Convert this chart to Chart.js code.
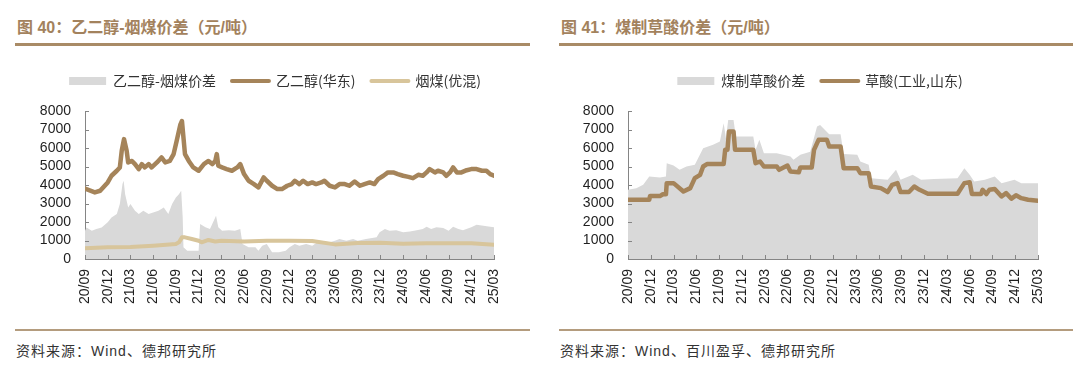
<!DOCTYPE html>
<html lang="zh-CN">
<head>
<meta charset="utf-8">
<title>乙二醇-烟煤价差 / 煤制草酸价差</title>
<script src="https://cdn.jsdelivr.net/npm/chart.js@4.4.1/dist/chart.umd.min.js"></script>
<style>
  html, body { margin: 0; padding: 0; background: #fff; }
  body { width: 1080px; height: 372px; position: relative; overflow: hidden;
         font-family: "Liberation Sans", "Noto Sans CJK SC", sans-serif; }
  .title { position: absolute; top: 18px; font-size: 16px; line-height: 20px; font-weight: bold; color: #a3825d; white-space: nowrap; }
  .rule { position: absolute; top: 43px; height: 3px; background: #a98b66; }
  .foot-rule { position: absolute; top: 329px; height: 2px; background: #b49c7e; }
  .source { position: absolute; top: 342px; font-size: 14px; line-height: 18px; color: #333; letter-spacing: 1px; white-space: nowrap; }
  .panel { position: absolute; top: 56px; width: 540px; height: 270px; }
</style>
</head>
<body>
  <div class="title" style="left:17px">图 40：乙二醇-烟煤价差（元/吨）</div>
  <div class="rule" style="left:15px;width:515px"></div>
  <div class="panel" style="left:0"><canvas id="c1" width="540" height="270"></canvas></div>
  <div class="foot-rule" style="left:15px;width:515px"></div>
  <div class="source" style="left:16px">资料来源：Wind、德邦研究所</div>

  <div class="title" style="left:561px">图 41：煤制草酸价差（元/吨）</div>
  <div class="rule" style="left:559px;width:514px"></div>
  <div class="panel" style="left:540px"><canvas id="c2" width="540" height="270"></canvas></div>
  <div class="foot-rule" style="left:559px;width:514px"></div>
  <div class="source" style="left:560px">资料来源：Wind、百川盈孚、德邦研究所</div>

<script>
// x positions are months counted from 2020-09 (0) to 2025-03 (54)
const TICK_LABELS = ["20/09","20/12","21/03","21/06","21/09","21/12","22/03","22/06","22/09","22/12",
  "23/03","23/06","23/09","23/12","24/03","24/06","24/09","24/12","25/03"];

// --- fig 40: ethylene glycol (East China), thermal coal, spread ---
const EG_M = [0, 1.3, 2.0, 3.0, 3.5, 4.2, 4.6, 4.85, 5.15, 5.5,
  5.7, 6.2, 6.6, 7.1, 7.5, 7.9, 8.4, 8.8, 9.5, 10.1,
  10.6, 11.2, 11.7, 12.1, 12.6, 12.8, 13.0, 13.2, 13.7, 14.3,
  15.0, 15.7, 16.3, 16.8, 17.2, 17.4, 17.6, 18.1, 18.7, 19.4,
  20.1, 20.5, 21.0, 21.6, 22.3, 22.9, 23.6, 24.0, 24.7, 25.4,
  26.0, 26.7, 27.3, 27.7, 28.3, 28.8, 29.4, 30.0, 30.5, 31.2,
  31.6, 32.3, 33.0, 33.6, 34.3, 34.9, 35.6, 36.3, 36.9, 37.6,
  38.2, 38.7, 39.4, 40.0, 40.7, 41.3, 42.0, 42.7, 43.3, 44.0,
  44.6, 45.1, 45.5, 46.2, 46.6, 47.3, 47.7, 48.2, 48.6, 49.1,
  49.7, 50.4, 51.0, 51.7, 52.4, 53.0, 53.5, 54.0];
const EG_PRICE = [3800, 3600, 3690, 4140, 4500, 4770, 4950, 5850, 6480, 5850,
  5220, 5300, 5130, 4860, 5130, 4950, 5130, 4950, 5220, 5490,
  5220, 5300, 5670, 6380, 7280, 7460, 6560, 5670, 5300, 4950,
  4770, 5130, 5300, 5130, 5300, 5670, 5040, 4950, 4860, 4770,
  4950, 5130, 4590, 4230, 4050, 3870, 4410, 4230, 3960, 3780,
  3780, 3960, 4050, 4230, 4050, 4230, 4050, 4140, 4050, 4140,
  4230, 3960, 3870, 4050, 4050, 3960, 4190, 3960, 4050, 4140,
  4050, 4320, 4500, 4680, 4680, 4590, 4500, 4440, 4370, 4550,
  4500, 4680, 4860, 4680, 4770, 4680, 4500, 4680, 4950, 4680,
  4680, 4800, 4860, 4860, 4770, 4770, 4590, 4500];

const COAL_M = [0, 3, 6, 9, 12, 12.4, 12.8, 13.2, 14.1, 15, 15.4, 16.3, 17.2, 18,
  21, 24, 27, 30, 33, 36, 39, 42, 45, 48, 51, 54];
const COAL_PRICE = [575, 630, 650, 720, 810, 900, 1170, 1170, 1080, 990, 900, 1030, 950, 990,
  950, 990, 990, 970, 790, 860, 880, 830, 850, 850, 850, 770];

const EG_SPREAD_M = [0, 0.2, 0.9, 1.5, 2.2, 3.0, 3.5, 4.2, 4.6, 4.95,
  5.1, 5.3, 5.7, 6.0, 6.6, 7.1, 7.7, 8.4, 9.0, 9.7,
  10.4, 11.0, 11.5, 12.0, 12.4, 12.7, 12.9, 13.0, 13.5, 15.0,
  15.2, 15.9, 16.5, 17.3, 17.6, 18.1, 19.0, 19.8, 20.5, 20.8,
  21.6, 22.5, 22.9, 23.4, 24.0, 24.7, 25.6, 26.5, 27.0, 27.7,
  28.3, 29.2, 30.0, 30.7, 31.4, 32.3, 33.0, 33.6, 34.5, 35.4,
  36.0, 37.1, 38.5, 38.9, 39.6, 40.2, 41.1, 42.0, 42.9, 43.8,
  44.6, 45.1, 45.7, 46.4, 47.3, 48.0, 48.6, 49.3, 49.9, 51.0,
  51.7, 52.6, 53.5, 54.0];
const EG_SPREAD = [1530, 1700, 1530, 1620, 1700, 1980, 2250, 2430, 2970, 4050,
  4230, 3500, 2790, 2970, 2610, 2430, 2610, 2430, 2520, 2610,
  2790, 2430, 2970, 3330, 3500, 3690, 2250, 630, 450, 450,
  1890, 1710, 1620, 2340, 1710, 1530, 1560, 1530, 1620, 810,
  630, 630, 450, 720, 810, 360, 360, 450, 630, 810,
  720, 810, 720, 900, 810, 900, 990, 1080, 990, 1080,
  990, 1080, 1170, 1440, 1620, 1530, 1560, 1440, 1490, 1560,
  1620, 1740, 1620, 1710, 1670, 1530, 1740, 1620, 1560, 1710,
  1850, 1800, 1740, 1710];

// --- fig 41: oxalic acid (industrial, Shandong) and coal-to-oxalic spread ---
const OX_M = [0, 2.8, 2.9, 4.2, 4.6, 5.0, 5.1, 6.0, 7.3, 8.2,
  8.8, 9.5, 9.9, 10.4, 12.6, 12.8, 13.1, 13.3, 13.9, 14.1,
  16.5, 16.8, 17.4, 17.9, 19.6, 19.9, 21.0, 21.4, 22.5, 22.7,
  24.2, 24.5, 25.1, 26.2, 26.5, 28.0, 28.4, 30.2, 30.6, 31.7,
  32.0, 33.3, 34.2, 34.8, 35.5, 35.9, 37.0, 37.7, 38.4, 39.5,
  43.4, 44.3, 45.0, 45.3, 46.5, 46.7, 47.2, 47.6, 48.3, 49.2,
  49.8, 50.5, 51.1, 51.8, 52.7, 54.0];
const OX_PRICE = [3200, 3200, 3400, 3400, 3500, 3500, 4100, 4100, 3650, 3830,
  4370, 4550, 5000, 5130, 5130, 5900, 5900, 6890, 6890, 5900,
  5900, 5180, 5270, 5000, 5000, 4820, 5050, 4730, 4690, 4950,
  4950, 5900, 6440, 6440, 6080, 6080, 4910, 4910, 4640, 4640,
  3920, 3830, 3620, 4010, 4100, 3620, 3620, 3920, 3740, 3530,
  3530, 4100, 4150, 3510, 3510, 3740, 3510, 3740, 3780, 3380,
  3560, 3260, 3440, 3290, 3200, 3150];

const OX_SPREAD_M = [0, 1.1, 2.0, 2.8, 4.2, 5.0, 5.1, 6.0, 6.8, 7.7,
  8.8, 9.9, 11.2, 12.1, 12.6, 12.9, 13.2, 13.9, 14.2, 16.5,
  16.8, 17.3, 17.9, 19.6, 21.4, 21.8, 22.7, 24.0, 24.9, 25.3,
  26.5, 28.0, 28.4, 30.2, 30.6, 31.7, 32.0, 34.2, 35.3, 35.9,
  37.5, 38.6, 40.3, 43.4, 44.3, 45.0, 45.6, 47.0, 48.3, 49.2,
  50.9, 51.8, 54.0];
const OX_SPREAD = [3740, 3830, 4010, 4460, 4410, 4460, 5180, 5050, 4820, 5000,
  5090, 5990, 6170, 6350, 7340, 6530, 7520, 7520, 6620, 6620,
  5900, 6440, 5720, 5720, 5540, 5360, 5630, 5800, 7160, 7250,
  6740, 6740, 5670, 5630, 5270, 5090, 4370, 4280, 4820, 4280,
  4550, 4280, 4330, 4370, 4910, 4550, 4190, 4280, 4460, 4100,
  4280, 4100, 4100];

const BROWN = "#a5845a", TAN = "#d8c59b", GREY = "#d9d9d9", AXIS = "#858585", INK = "#1f1f1f";
const pts = (xs, ys) => xs.map((x, i) => ({ x, y: ys[i] }));

function area(label, xs, ys) {
  return { label, data: pts(xs, ys), fill: "origin", backgroundColor: GREY, borderWidth: 0,
    pointRadius: 0, tension: 0, order: 5, legendStyle: "rect", legendFill: GREY, legendWidth: 0 };
}
function line(label, xs, ys, color, w, order) {
  return { label, data: pts(xs, ys), fill: false, borderColor: color, borderWidth: w,
    borderJoinStyle: "round", borderCapStyle: "round", pointRadius: 0, tension: 0, order,
    legendStyle: "line", legendFill: color, legendWidth: 4 };
}

// small inward tick marks on both axes (drawn over the grey area)
const tickMarks = {
  id: "tickMarks",
  afterDatasetsDraw(chart) {
    const { ctx, scales: { x, y } } = chart;
    ctx.save();
    ctx.strokeStyle = AXIS; ctx.lineWidth = 1;
    ctx.beginPath();
    x.ticks.forEach((t) => { const p = Math.round(x.getPixelForValue(t.value)) + 0.5; ctx.moveTo(p, y.bottom); ctx.lineTo(p, y.bottom - 4); });
    y.ticks.forEach((t) => { const p = Math.round(y.getPixelForValue(t.value)) + 0.5; ctx.moveTo(x.left, p); ctx.lineTo(x.left + 4, p); });
    ctx.stroke();
    ctx.restore();
  },
};
// legend on one row, centred on a given x, with room left below it
const LEGEND_W = 480;
const legendPlace = (cx, extra) => ({
  id: "legendPlace",
  beforeInit(chart) {
    const lg = chart.legend, fit = lg.fit, draw = lg.draw;
    lg.fit = function () { const mw = this.maxWidth; this.maxWidth = LEGEND_W; fit.call(this); this.maxWidth = mw; this.height += extra; };
    lg.draw = function () {
      const l = this.left, r = this.right;
      this.left = cx - LEGEND_W / 2; this.right = cx + LEGEND_W / 2;
      draw.call(this);
      this.left = l; this.right = r;
    };
  },
});

function makeChart(id, datasets, axisX, padRight, legendX) {
  return new Chart(document.getElementById(id), {
    type: "line",
    data: { datasets },
    plugins: [tickMarks, legendPlace(legendX, 13)],
    options: {
      responsive: false, animation: false, events: [],
      layout: { padding: { left: 0, right: padRight, top: 2, bottom: 0 } },
      plugins: {
        tooltip: { enabled: false },
        legend: {
          position: "top",
          labels: {
            usePointStyle: true, pointStyleWidth: 37, boxHeight: 8, padding: 16,
            color: "#333", font: { family: "'Noto Sans CJK SC', 'Liberation Sans'", size: 14 },
            generateLabels: (chart) => chart.data.datasets.map((ds, i) => ({
              text: ds.label, datasetIndex: i, hidden: false,
              fillStyle: ds.legendFill, strokeStyle: ds.legendFill, lineWidth: ds.legendWidth,
              lineCap: "round", pointStyle: ds.legendStyle, fontColor: "#333",
            })),
          },
        },
      },
      scales: {
        x: {
          type: "linear", min: 0, max: 54,
          grid: { display: false, drawTicks: false },
          border: { display: true, color: AXIS, width: 1 },
          ticks: { stepSize: 3, autoSkip: false, maxRotation: 90, minRotation: 90, padding: 10, color: INK,
            font: { family: "'Liberation Sans'", size: 14 },
            callback: (v) => TICK_LABELS[Math.round(v / 3)] || "" },
          afterFit: (s) => { s.height = 67; },
        },
        y: {
          min: 0, max: 8000,
          grid: { display: false, drawTicks: false },
          border: { display: true, color: AXIS, width: 1 },
          ticks: { stepSize: 1000, autoSkip: false, padding: 14, color: INK, font: { family: "'Liberation Sans'", size: 14 },
            callback: (v) => String(v) },
          afterFit: (s) => { s.width = axisX; },
        },
      },
    },
  });
}

makeChart("c1", [
  area("乙二醇-烟煤价差", EG_SPREAD_M, EG_SPREAD),
  line("乙二醇(华东)", EG_M, EG_PRICE, BROWN, 4.5, 1),
  line("烟煤(优混)", COAL_M, COAL_PRICE, TAN, 4, 2),
], 85, 46, 275);

makeChart("c2", [
  area("煤制草酸价差", OX_SPREAD_M, OX_SPREAD),
  line("草酸(工业,山东)", OX_M, OX_PRICE, BROWN, 4.5, 1),
], 88, 42, 280);
</script>
</body>
</html>
